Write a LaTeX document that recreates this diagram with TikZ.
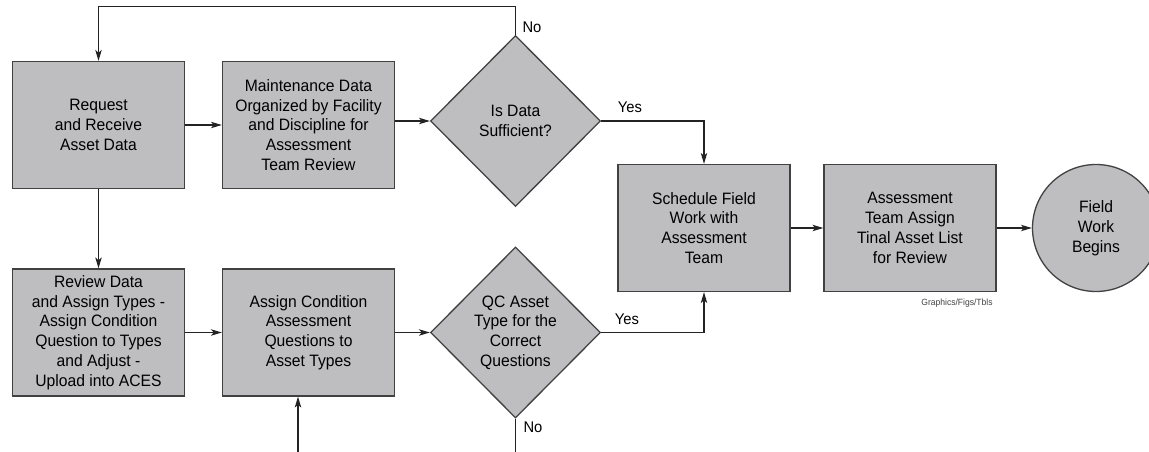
\documentclass[tikz,border=0pt]{standalone}
\usepackage{fontspec}
\setmainfont{Liberation Sans}[FakeStretch=0.95]
\usetikzlibrary{shapes.geometric, arrows.meta}
\definecolor{boxgray}{RGB}{190,190,192}
\definecolor{edgegray}{RGB}{65,65,65}
\definecolor{linegray}{RGB}{35,35,35}
\tikzset{
  stepbox/.style = {draw=edgegray, line width=1.3pt, fill=boxgray, minimum width=172pt,
    minimum height=127pt, inner sep=0pt, align=center, font=\fontsize{16.5}{19.8}\selectfont},
  decision/.style = {diamond, draw=edgegray, line width=1.3pt, fill=boxgray, minimum width=170pt,
    minimum height=171pt, inner sep=0pt, align=center, font=\fontsize{16.5}{19.8}\selectfont},
  terminal/.style = {circle, draw=edgegray, line width=1.3pt, fill=boxgray, minimum size=127pt,
    inner sep=0pt, align=center, font=\fontsize{16.5}{19.8}\selectfont},
  flow/.style = {draw=linegray, line width=1.1pt, -{Stealth[length=11pt,width=6.5pt,inset=3pt]}},
  link/.style = {draw=linegray, line width=1.1pt},
  answer/.style = {inner sep=0pt, font=\fontsize{15.5}{18}\selectfont},
  tag/.style = {inner sep=0pt, text=edgegray, font=\fontsize{9}{10}\selectfont},
}

\begin{document}
\begin{tikzpicture}[x=1pt, y=-1pt]
	\useasboundingbox (0,0) rectangle (1149,452);

	\node[stepbox] (request) at (98.5,125) {Request\\and Receive\\Asset Data};
	\node[stepbox] (organize) at (308.5,125) {Maintenance Data\\Organized by Facility\\and Discipline for\\Assessment\\Team Review};
	\node[decision] (enough) at (515.5,121) {Is Data\\Sufficient?};
	\node[stepbox] (schedule) at (704,228) {Schedule Field\\Work with\\Assessment\\Team};
	\node[stepbox] (finallist) at (910,228) {Assessment\\Team Assign\\Tinal Asset List\\for Review};
	\node[terminal] (begins) at (1096,228) {Field\\Work\\Begins};

	\node[stepbox] (review) at (98.5,332.5) {Review Data\\and Assign Types -\\Assign Condition\\Question to Types\\and Adjust -\\Upload into ACES};
	\node[stepbox] (questions) at (308.5,332.5) {Assign Condition\\Assessment\\Questions to\\Asset Types};
	\node[decision] (qc) at (515.5,332.5) {QC Asset\\Type for the\\Correct\\Questions};

	\node[tag] (credit) at (957,303) {Graphics/Figs/Tbls};

	\node[answer] (notop) at (532,27) {No};
	\node[answer] (yestop) at (630,107) {Yes};
	\node[answer] (yesbot) at (627,319) {Yes};
	\node[answer] (nobot) at (533,427) {No};

	\coordinate (qcout) at (515.5,452);
	\coordinate (loopin) at (298,452);

	\draw[flow] (enough.north) -- ++(0,-28) -| (request.north);
	\draw[flow] (request) -- (organize);
	\draw[flow] (organize.east |- enough.west) -- (enough.west);
	\draw[flow] (enough.east) -| (schedule.north);
	\draw[flow] (request) -- (review);
	\draw[flow] (review) -- (questions);
	\draw[flow] (questions) -- (qc);
	\draw[flow] (qc.east) -| (schedule.south);
	\draw[flow] (schedule) -- (finallist);
	\draw[flow] (finallist) -- (begins);
	\draw[link] (qc.south) -- (qcout);
	\draw[flow] (loopin) -- (loopin |- questions.south);
\end{tikzpicture}
\end{document}
